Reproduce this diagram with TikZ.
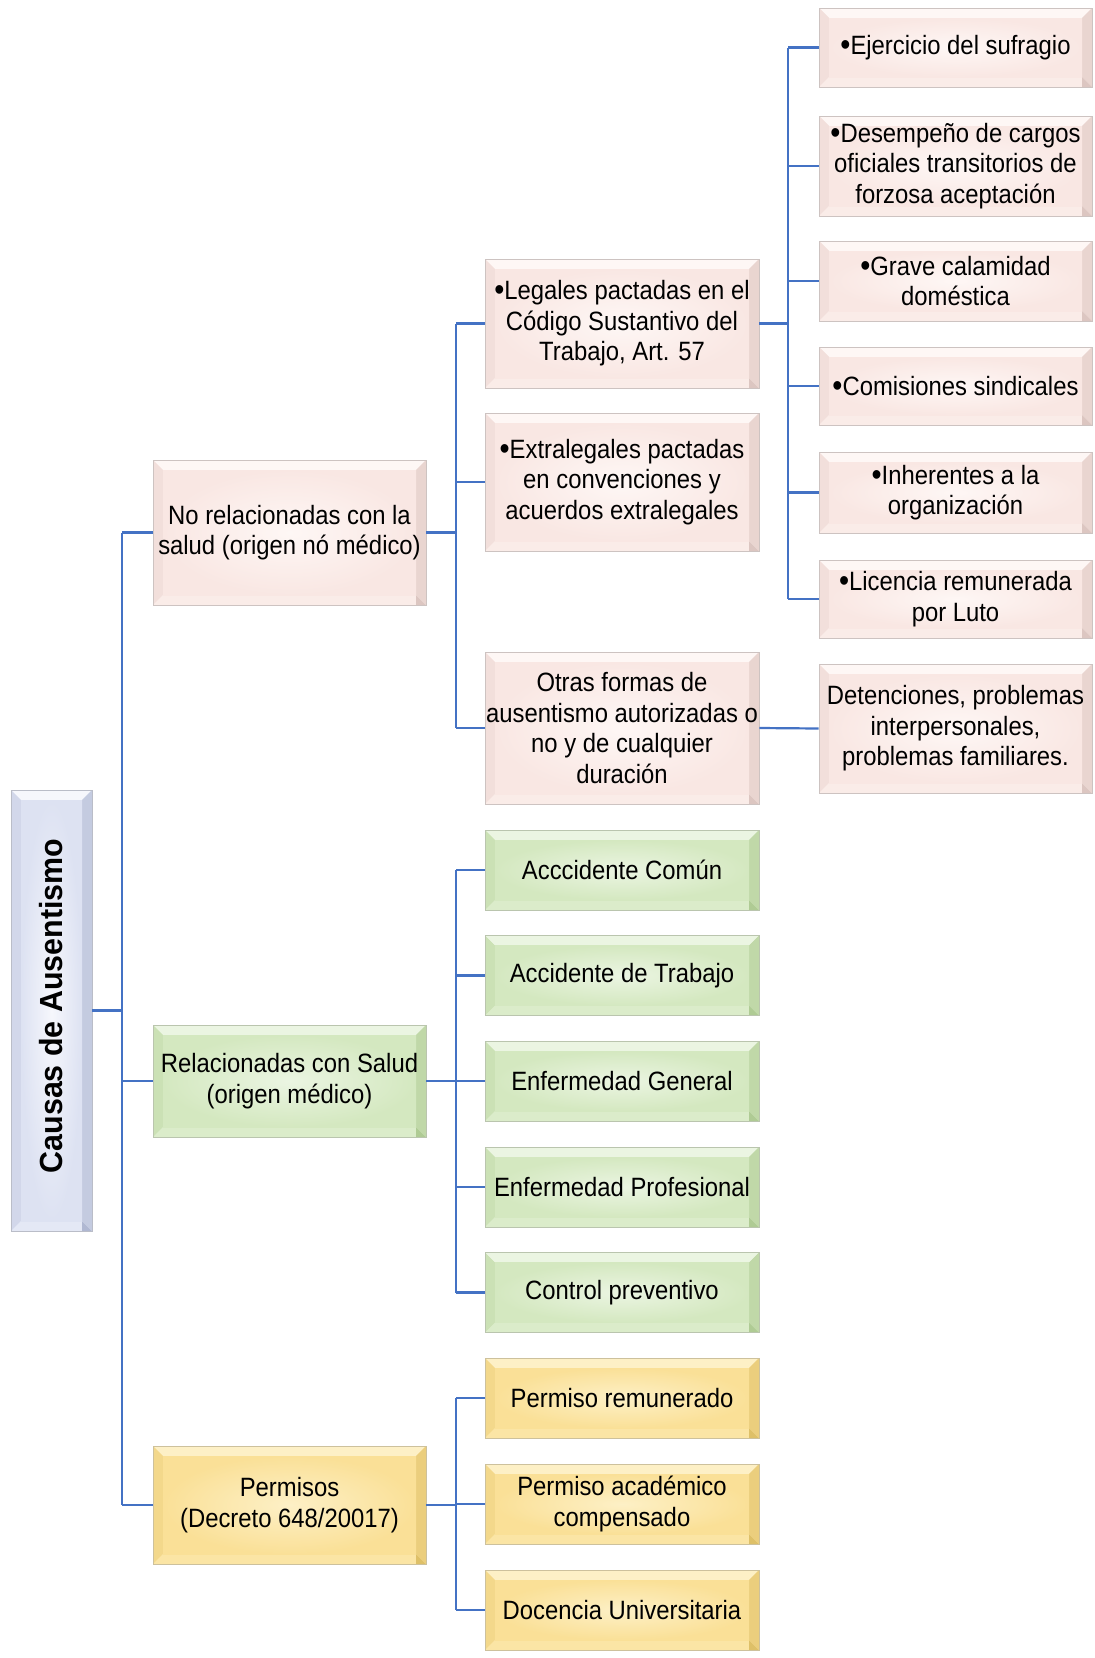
\documentclass[tikz,border=0pt]{standalone}
\usepackage{fontspec}
\setmainfont{Liberation Sans}[FakeStretch=0.9]
\newfontfamily\rootfont{Liberation Sans}[FakeStretch=0.95]
\usetikzlibrary{calc}
\definecolor{conn}{HTML}{4472C4}
\definecolor{pkM}{HTML}{F9E7E3}\definecolor{pkL}{HTML}{FEF7F5}\definecolor{pkD}{HTML}{DCC6C1}
\definecolor{gnM}{HTML}{D4E8C0}\definecolor{gnL}{HTML}{EBF5E2}\definecolor{gnD}{HTML}{AFCB94}
\definecolor{ywM}{HTML}{FAE097}\definecolor{ywL}{HTML}{FDF0C6}\definecolor{ywD}{HTML}{DEC068}
\definecolor{rtM}{HTML}{DDE2F2}\definecolor{rtL}{HTML}{F6F7FC}\definecolor{rtD}{HTML}{B0B8D2}
\newcommand{\txtsz}{\fontsize{26.5}{30.5}\selectfont}
\newcommand{\bul}{\raisebox{-1pt}{\fontsize{32}{30}\selectfont •}}
\begin{document}
\begin{tikzpicture}[x=1pt,y=-1pt,
  bev/.style n args={3}{rectangle, draw=#3!60!gray!70!white, line width=0.8pt, fill=#1, inner sep=0pt,
    align=center, font=\txtsz,
    path picture={
      \coordinate (bNW) at (path picture bounding box.north west);
      \coordinate (bSE) at (path picture bounding box.south east);
      \coordinate (bNE) at (path picture bounding box.north east);
      \coordinate (bSW) at (path picture bounding box.south west);
      \coordinate (iNW) at ([xshift=10pt,yshift=-10pt]bNW);
      \coordinate (iNE) at ([xshift=-10pt,yshift=-10pt]bNE);
      \coordinate (iSE) at ([xshift=-10pt,yshift=10pt]bSE);
      \coordinate (iSW) at ([xshift=10pt,yshift=10pt]bSW);
      \fill[#2] (bNW) -- (bNE) -- (iNE) -- (iNW) -- cycle;
      \fill[#1!75!#3] (bNW) -- (iNW) -- (iSW) -- (bSW) -- cycle;
      \fill[#1!45!#3] (bNE) -- (bSE) -- (iSE) -- (iNE) -- cycle;
      \fill[#1!70!#2] (bSW) -- (iSW) -- (iSE) -- (bSE) -- cycle;
      \fill[#3] (bSE) -- ([xshift=-10pt]bSE) -- (iSE) -- cycle;
      \shade[inner color=#2, outer color=#1] (iNW) rectangle (iSE);
    }},
  pinkbox/.style={bev={pkM}{pkL}{pkD}},
  greenbox/.style={bev={gnM}{gnL}{gnD}},
  yellowbox/.style={bev={ywM}{ywL}{ywD}},
  rootbox/.style={bev={rtM}{rtL}{rtD}},
  lv1/.style={minimum width=273pt},
  lv2/.style={minimum width=274pt},
  lv3/.style={minimum width=273pt},
  link/.style={draw=conn, line width=2.2pt}
]
\useasboundingbox (0,0) rectangle (1095,1658);

% root
\node[rootbox, minimum width=81pt, minimum height=441pt] (root) at (51.5,1010.5) {};
\node[rotate=90, font=\rootfont\bfseries\fontsize{32}{36}\selectfont] (roottxt) at (51.5,1006) {Causas de Ausentismo};

% level 1
\node[pinkbox, lv1, minimum height=145pt] (norel) at (289.5,532.5) {No relacionadas con la\\salud (origen nó médico)};
\node[greenbox, lv1, minimum height=112pt] (rel) at (289.5,1081) {Relacionadas con Salud\\(origen médico)};
\node[yellowbox, lv1, minimum height=118pt] (perm) at (289.5,1505) {Permisos\\(Decreto 648/20017)};

% level 2
\node[pinkbox, lv2, minimum height=129pt] (leg) at (622,323.5) {\bul Legales pactadas en el\\Código Sustantivo del\\Trabajo, Art. 57};
\node[pinkbox, lv2, minimum height=138pt] (ext) at (622,482) {\bul Extralegales pactadas\\en convenciones y\\acuerdos extralegales};
\node[pinkbox, lv2, minimum height=152pt] (otr) at (622,728) {Otras formas de\\ausentismo autorizadas o\\no y de cualquier\\duración};
\node[greenbox, lv2, minimum height=80pt] (acc) at (622,870) {Acccidente Común};
\node[greenbox, lv2, minimum height=80pt] (act) at (622,975.5) {Accidente de Trabajo};
\node[greenbox, lv2, minimum height=80pt] (eng) at (622,1081) {Enfermedad General};
\node[greenbox, lv2, minimum height=80pt] (enp) at (622,1187) {Enfermedad Profesional};
\node[greenbox, lv2, minimum height=80pt] (cpr) at (622,1292.5) {Control preventivo};
\node[yellowbox, lv2, minimum height=80pt] (prm) at (622,1398) {Permiso remunerado};
\node[yellowbox, lv2, minimum height=80pt] (pac) at (622,1504) {Permiso académico\\compensado};
\node[yellowbox, lv2, minimum height=80pt] (doc) at (622,1610) {Docencia Universitaria};

% level 3
\node[pinkbox, lv3, minimum height=79pt] (eje) at (955.5,47.5) {\bul Ejercicio del sufragio};
\node[pinkbox, lv3, minimum height=100pt] (des) at (955.5,166) {\bul Desempeño de cargos\\oficiales transitorios de\\forzosa aceptación};
\node[pinkbox, lv3, minimum height=80pt] (gra) at (955.5,281) {\bul Grave calamidad\\doméstica};
\node[pinkbox, lv3, minimum height=78pt] (com) at (955.5,386) {\bul Comisiones sindicales};
\node[pinkbox, lv3, minimum height=81pt] (inh) at (955.5,492.5) {\bul Inherentes a la\\organización};
\node[pinkbox, lv3, minimum height=78pt] (lic) at (955.5,599) {\bul Licencia remunerada\\por Luto};
\node[pinkbox, lv3, minimum height=129pt] (det) at (955.5,728.5) {Detenciones, problemas\\interpersonales,\\problemas familiares.};

% bus coordinates
\coordinate (b0) at (122,0);
\coordinate (b1) at (456,0);
\coordinate (b2) at (788,0);

% connectors: root
\draw[link] (root.east) -- (root.east -| b0);
\draw[link] (norel.west -| b0) -- (perm.west -| b0);
\foreach \n in {norel,rel,perm} \draw[link] (\n.west -| b0) -- (\n.west);

% level1 -> level2
\draw[link] (norel.east) -- (norel.east -| b1);
\draw[link] (leg.west -| b1) -- (otr.west -| b1);
\foreach \n in {leg,ext,otr} \draw[link] (\n.west -| b1) -- (\n.west);

\draw[link] (rel.east) -- (rel.east -| b1);
\draw[link] (acc.west -| b1) -- (cpr.west -| b1);
\foreach \n in {acc,act,eng,enp,cpr} \draw[link] (\n.west -| b1) -- (\n.west);

\draw[link] (perm.east) -- (perm.east -| b1);
\draw[link] (prm.west -| b1) -- (doc.west -| b1);
\foreach \n in {prm,pac,doc} \draw[link] (\n.west -| b1) -- (\n.west);

% level2 -> level3
\draw[link] (leg.east) -- (leg.east -| b2);
\draw[link] (eje.west -| b2) -- (lic.west -| b2);
\foreach \n in {eje,des,gra,com,inh,lic} \draw[link] (\n.west -| b2) -- (\n.west);

\draw[link] (otr.east) -- (det.west);
\end{tikzpicture}
\end{document}
